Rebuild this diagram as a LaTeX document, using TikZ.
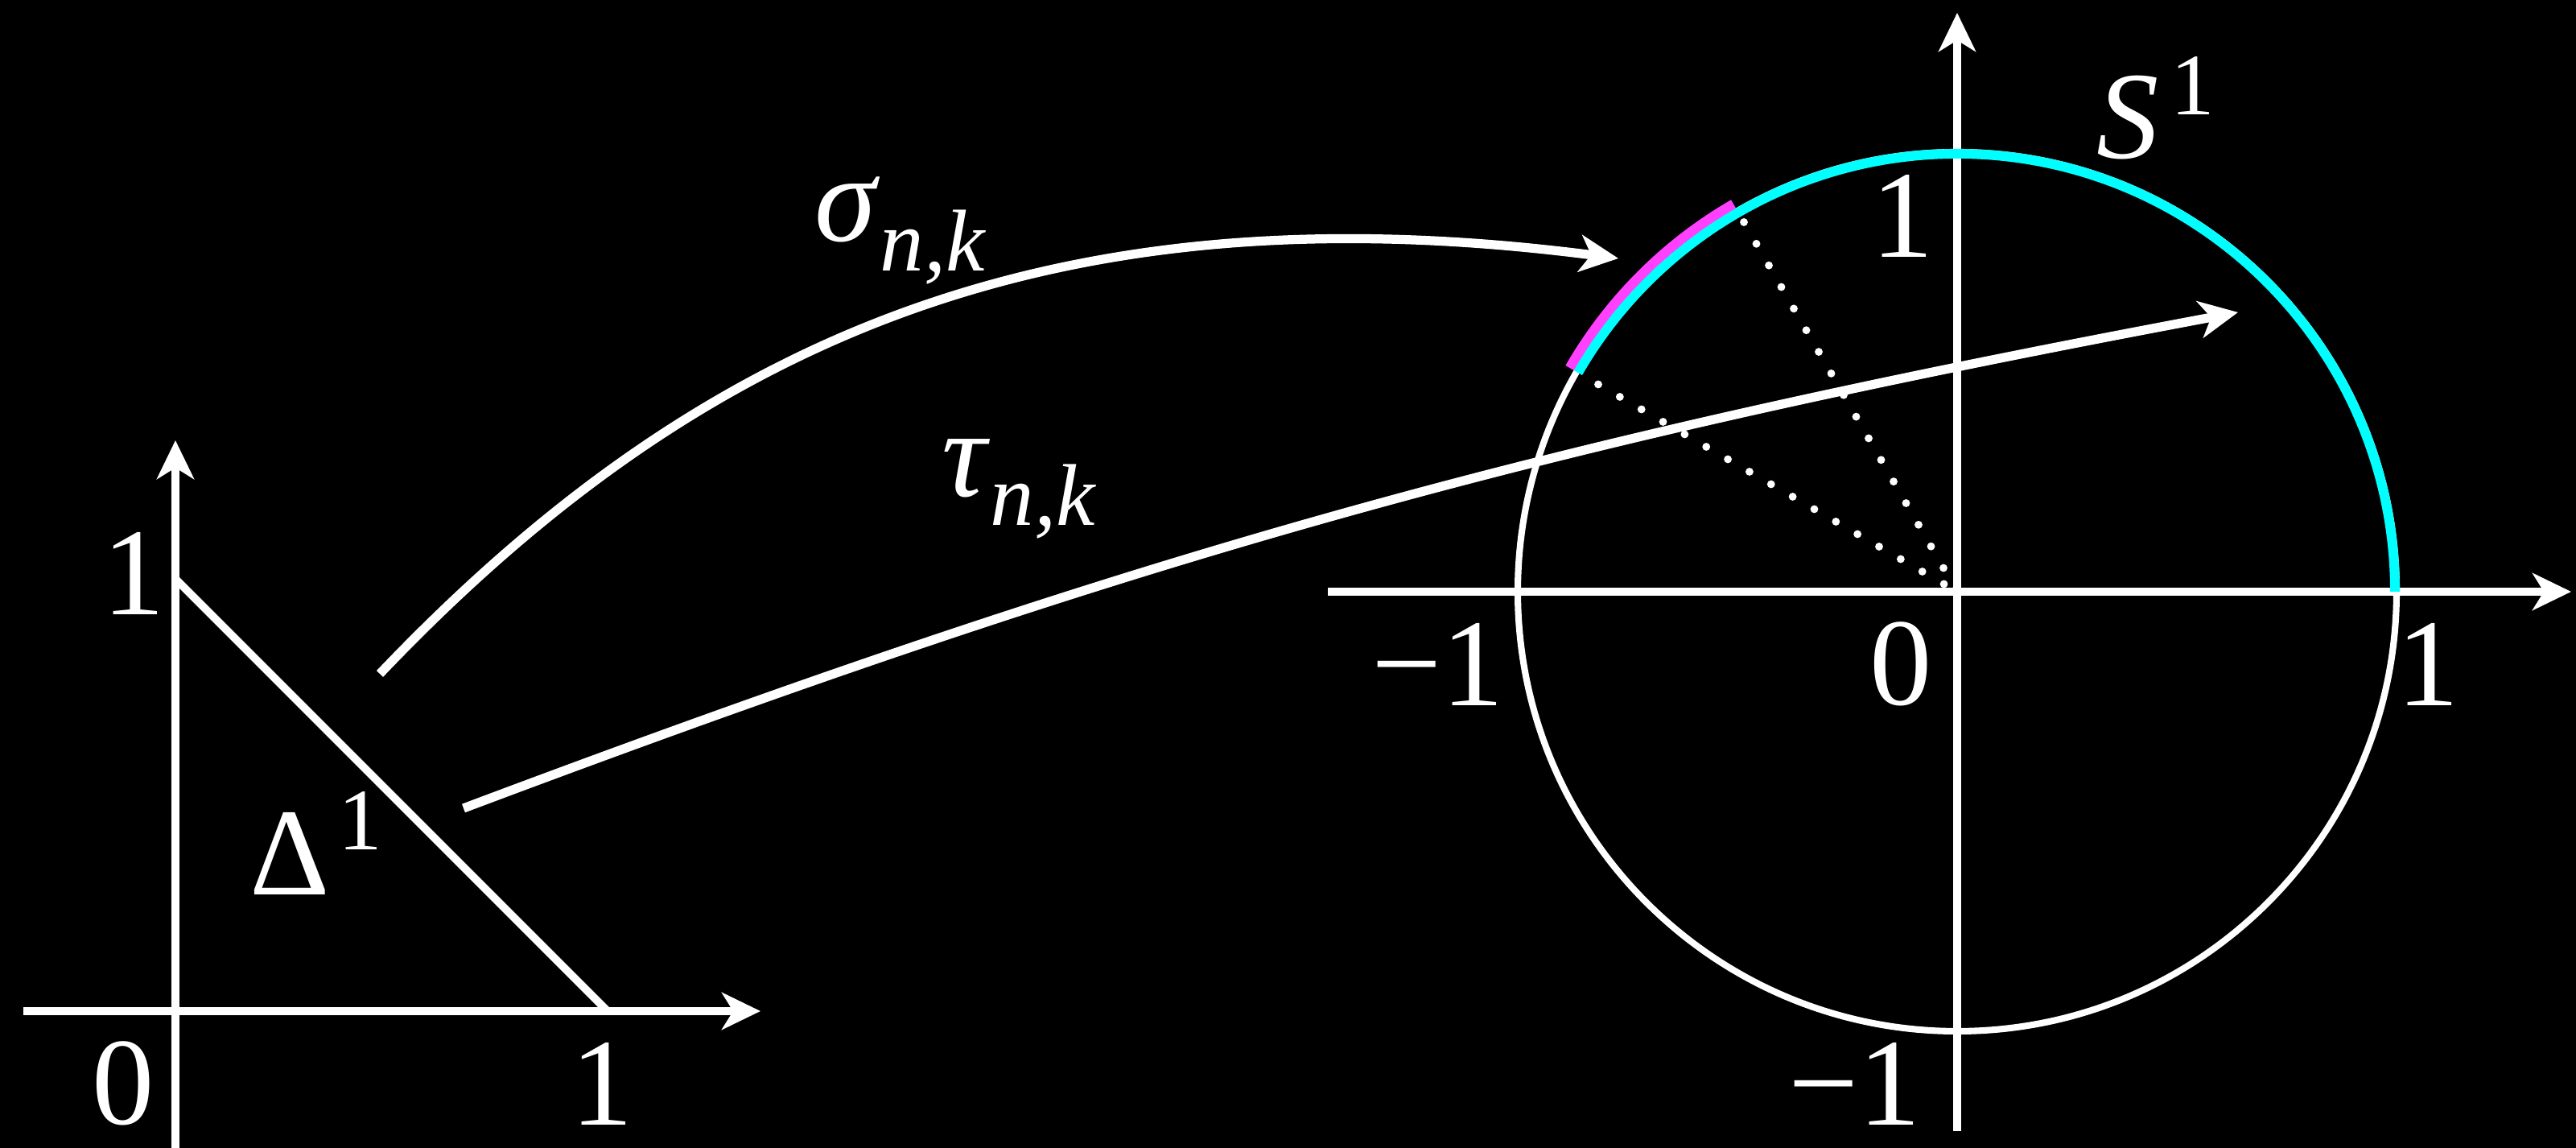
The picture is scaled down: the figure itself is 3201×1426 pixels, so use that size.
\documentclass[tikz,border=0pt]{standalone}
\usepackage{fontspec}
\setmainfont{Liberation Serif}
\usepackage{tikz}
\usetikzlibrary{arrows.meta}
\definecolor{arcCyan}{RGB}{0,255,255}
\definecolor{arcMagenta}{RGB}{255,64,255}
\newcommand{\supfont}{\fontsize{31}{35}\selectfont}

\begin{document}
\begin{tikzpicture}[
x=0.1mm, y=0.1mm,
lbl/.style={text=white, inner sep=0pt, font=\fontsize{44}{50}\selectfont},
axis/.style={draw=white, line width=2.7pt, -{Stealth[length=4.8mm, width=4.6mm, inset=1.4mm]}},
mapto/.style={draw=white, line width=3.2pt, -{Stealth[length=4.8mm, width=4.6mm, inset=1.4mm]}},
edge/.style={draw=white, line width=2.8pt},
ring/.style={draw=white, line width=2.3pt},
dots/.style={draw=white, line width=2.8pt, line cap=round, dash pattern=on 0pt off 3.1mm}
]
\fill[black] (0,0) rectangle (3201,1426);
\useasboundingbox (0,0) rectangle (3201,1426);

% left: the simplex
\coordinate (o1) at (218,170);
\coordinate (x1end) at (945,170);
\coordinate (y1end) at (218,879);
\draw[axis] (29,170) -- (x1end);
\draw[axis] (218,0) -- (y1end);
\draw[edge] (218,707) -- (755,170);
\node[lbl] (one y) at (166,714) {1};
\node[lbl] (zero l) at (153,80) {0};
\node[lbl] (one x) at (748,80) {1};
\node[lbl, anchor=base west] (delta) at (310,314) {Δ\kern3pt\raisebox{16pt}{\supfont 1}};

% right: the circle
\coordinate (c) at (2432,691);
\draw[axis] (1650,691) -- (3195,691);
\draw[axis] (2432,21) -- (2432,1410);
\draw[ring] (c) circle[radius=546];
\draw[arcCyan, line width=3.4pt] ([shift={(0:544)}]c) arc[start angle=0, end angle=150, radius=544];
\draw[arcMagenta, line width=3.4pt] ([shift={(120:556)}]c) arc[start angle=120, end angle=150, radius=556];
\draw[dots] ([shift={(120:530)}]c) -- (c);
\draw[dots] ([shift={(150:515)}]c) -- (c);
\node[lbl, anchor=base west] (sphere) at (2605,1229) {\textit{S}\kern4pt\raisebox{15.5pt}{\supfont 1}};
\node[lbl] (one top) at (2364,1158) {1};
\node[lbl] (minus one l) at (1787,601) {−1};
\node[lbl] (zero r) at (2362,601) {0};
\node[lbl] (one r) at (3017,601) {1};
\node[lbl] (minus one b) at (2305,80) {−1};

% the two maps
\coordinate (sig start) at (472,589);
\coordinate (sig end) at (2011,1105);
\draw[mapto] (sig start) .. controls (872,1009) and (1311,1195) .. (sig end);
\node[lbl, anchor=base west] (sig) at (1012,1126) {\textit{σ}\raisebox{-10.5pt}{\supfont\textit{n,k}}};
\coordinate (tau start) at (576,422);
\coordinate (tau end) at (2781,1038);
\draw[mapto] (tau start) to[bend left=5] (tau end);
\node[lbl, anchor=base west] (tau) at (1170,809) {\textit{τ}\raisebox{-10pt}{\supfont\textit{n,k}}};
\end{tikzpicture}
\end{document}
